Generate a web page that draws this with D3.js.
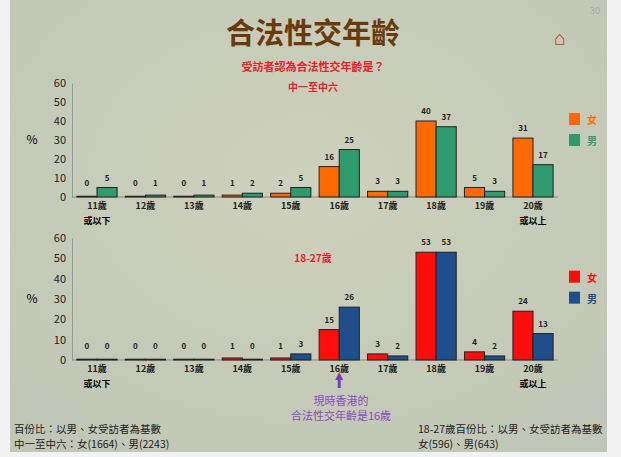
<!DOCTYPE html><html><head><meta charset="utf-8">
<script src="https://cdn.jsdelivr.net/npm/d3@7"></script>
<style>body{margin:0;background:#f2f2f2}svg{display:block}text{font-family:"Noto Sans CJK TC","Noto Sans",sans-serif}</style></head><body>
<script>
const categories=["11歲","12歲","13歲","14歲","15歲","16歲","17歲","18歲","19歲","20歲"];
const topFemale=[0,0,0,1,2,16,3,40,5,31];
const topMale=[5,1,1,2,5,25,3,37,3,17];
const botFemale=[0,0,0,1,1,15,3,53,4,24];
const botMale=[0,0,0,0,3,26,2,53,2,13];
const yTicks=[0,10,20,30,40,50,60];
const W=621,H=457;
const svg=d3.select("body").append("svg").attr("width",W).attr("height",H);
const g0=svg.append("defs").append("radialGradient").attr("id","bg").attr("cx","50%").attr("cy","40%").attr("r","70%");
g0.append("stop").attr("offset","0%").attr("stop-color","#cdd1bd");
g0.append("stop").attr("offset","100%").attr("stop-color","#c2c6b6");
svg.append("rect").attr("x",10).attr("y",0).attr("width",597).attr("height",452).attr("fill","url(#bg)");
svg.append("text").attr("x",313).attr("y",44).attr("text-anchor","middle").attr("font-size",29).attr("font-weight","bold").attr("fill","#6b3a0c").text("合法性交年齡");
svg.append("text").attr("x",600).attr("y",14).attr("text-anchor","end").attr("font-size",9).attr("fill","#aaa").text("30");
svg.append("text").attr("x",560).attr("y",45).attr("text-anchor","middle").attr("font-size",20).attr("fill","#d33").text("⌂");
svg.append("text").attr("x",313).attr("y",71).attr("text-anchor","middle").attr("font-size",11).attr("font-weight","bold").attr("fill","#e8222a").text("受訪者認為合法性交年齡是？");
const x=d3.scaleBand().domain(categories).range([73,557]).paddingInner(0.17).paddingOuter(0.08);
function panel(y0,y1,fem,mal,cf,cm,subtitle,subY){
  const y=d3.scaleLinear().domain([0,60]).range([y0,y1]);
  const g=svg.append("g");
  g.append("g").attr("transform","translate(72,0)").call(d3.axisLeft(y).tickValues(yTicks).tickSize(0).tickPadding(6))
   .call(s=>{s.select(".domain").attr("stroke","#999");s.selectAll("text").attr("font-size",11).attr("fill","#222").attr("font-family","Liberation Sans,sans-serif");});
  g.append("line").attr("x1",72).attr("x2",558).attr("y1",y0).attr("y2",y0).attr("stroke","#888");
  categories.forEach((c,i)=>{
    const bw=x.bandwidth()/2;
    [[fem[i],cf,0],[mal[i],cm,1]].forEach(([v,col,k])=>{
      const xx=x(c)+k*bw, vv=Math.max(v,0.4);
      g.append("rect").attr("x",xx).attr("y",y(vv)).attr("width",bw).attr("height",y0-y(vv)).attr("fill",col).attr("stroke","#222").attr("stroke-width",1);
      g.append("text").attr("x",xx+bw/2).attr("y",y(Math.max(v,2))-7).attr("text-anchor","middle").attr("font-size",8).attr("font-weight","bold").attr("fill","#222").text(v);
    });
    g.append("text").attr("x",x(c)+x.bandwidth()/2).attr("y",y0+12).attr("text-anchor","middle").attr("font-size",9).attr("font-weight","bold").attr("fill","#222").text(c);
  });
  g.append("text").attr("x",x("11歲")+x.bandwidth()/2).attr("y",y0+27).attr("text-anchor","middle").attr("font-size",9).attr("font-weight","bold").text("或以下");
  g.append("text").attr("x",x("20歲")+x.bandwidth()/2).attr("y",y0+27).attr("text-anchor","middle").attr("font-size",9).attr("font-weight","bold").text("或以上");
  g.append("text").attr("x",32).attr("y",y(30)+4).attr("text-anchor","middle").attr("font-size",12).text("%");
  g.append("text").attr("x",313).attr("y",subY).attr("text-anchor","middle").attr("font-size",10).attr("font-weight","bold").attr("fill","#e8222a").text(subtitle);
  const ly=y(40);
  [["女",cf],["男",cm]].forEach(([t,c],k)=>{
    g.append("rect").attr("x",569).attr("y",ly-8+k*21).attr("width",11).attr("height",12).attr("fill",c);
    g.append("text").attr("x",587).attr("y",ly+3+k*21).attr("font-size",10).attr("font-weight","bold").attr("fill",c).text(t);
  });
}
panel(197,83,topFemale,topMale,"#ff6a00","#2e9a6e","中一至中六",91);
panel(360,238,botFemale,botMale,"#ff0d0d","#1f4e8c","18-27歲",262);
const ax=x("16歲")+x.bandwidth()/2;
svg.append("path").attr("d",`M${ax},372 L${ax-4},380 L${ax-1.5},380 L${ax-1.5},388 L${ax+1.5},388 L${ax+1.5},380 L${ax+4},380Z`).attr("fill","#7a3fb0");
svg.append("text").attr("x",341).attr("y",405).attr("text-anchor","middle").attr("font-size",11).attr("fill","#8a4cc0").text("現時香港的");
svg.append("text").attr("x",341).attr("y",420).attr("text-anchor","middle").attr("font-size",11).attr("fill","#8a4cc0").text("合法性交年齡是16歲");
[["百份比：以男、女受訪者為基數",14,433],["中一至中六：女(1664)、男(2243)",14,448],["18-27歲百份比：以男、女受訪者為基數",418,433],["女(596)、男(643)",418,448]].forEach(([t,xx,yy])=>svg.append("text").attr("x",xx).attr("y",yy).attr("font-size",10.5).attr("fill","#222").text(t));
</script></body></html>
